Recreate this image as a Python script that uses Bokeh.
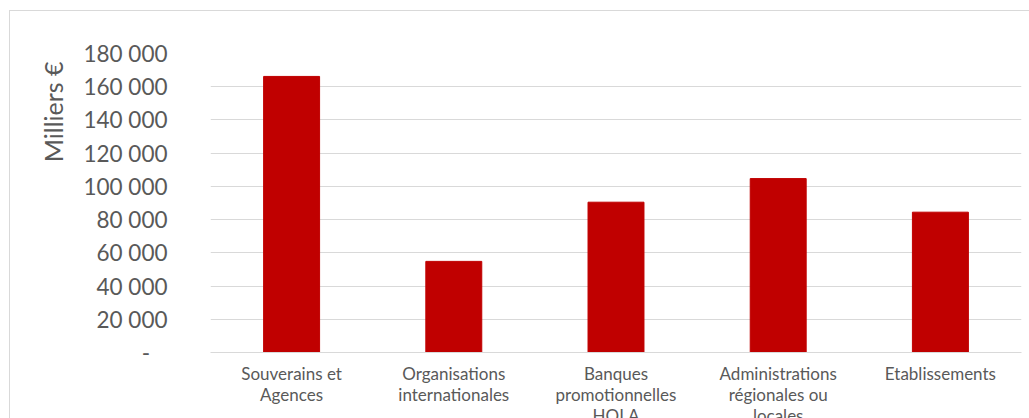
from bokeh.plotting import figure
from bokeh.models import FactorRange, Range1d, FixedTicker, Title, ColumnDataSource
from bokeh.embed import file_html
from bokeh.resources import INLINE

categories = [
    "Souverains et\nAgences",
    "Organisations\ninternationales",
    "Banques\npromotionnelles\nHQLA",
    "Administrations\nrégionales ou\nlocales",
    "Etablissements",
]
values = [166200, 54850, 90480, 104700, 84470]
y_ticks = [0, 20000, 40000, 60000, 80000, 100000, 120000, 140000, 160000, 180000]
y_tick_labels = ["-\u00a0\u00a0\u00a0", "20 000", "40 000", "60 000", "80 000", "100 000",
                 "120 000", "140 000", "160 000", "180 000"]
y_title = "Milliers €"

FONT = "Lato"
TXT = "#595959"
GRID = "#d9d9d9"

src = ColumnDataSource(dict(cat=categories, val=values))

p = figure(
    x_range=FactorRange(*categories, range_padding=0),
    y_range=Range1d(0, 180000),
    frame_width=811, frame_height=299,
    output_backend="svg", toolbar_location=None,
    min_border_left=200, min_border_right=8, min_border_top=42, min_border_bottom=0,
    styles={"margin-left": "9px", "margin-top": "10px",
            "border-left": "1px solid #d9d9d9", "border-top": "1px solid #d9d9d9"},
)
p.outline_line_color = None
p.background_fill_color = "white"
p.border_fill_color = "white"

p.vbar(x="cat", top="val", width=0.345, source=src, fill_color="#C00000", line_color="#C00000")

p.xgrid.grid_line_color = None
p.ygrid.grid_line_color = GRID
p.ygrid.grid_line_width = 1

ya = p.yaxis[0]
ya.ticker = FixedTicker(ticks=y_ticks)
ya.major_label_overrides = {t: l for t, l in zip(y_ticks, y_tick_labels)}
ya.axis_line_color = None
ya.major_tick_line_color = None
ya.minor_tick_line_color = None
ya.major_tick_out = 0
ya.major_tick_in = 0
ya.minor_tick_out = 0
ya.major_label_standoff = 43
ya.major_label_text_font = FONT
ya.major_label_text_font_size = "22.5px"
ya.major_label_text_color = TXT

xa = p.xaxis[0]
xa.axis_line_color = GRID
xa.axis_line_width = 1
xa.major_tick_line_color = None
xa.minor_tick_line_color = None
xa.major_tick_out = 0
xa.major_tick_in = 0
xa.major_label_standoff = 10
xa.major_label_text_font = FONT
xa.major_label_text_font_size = "17px"
xa.major_label_text_color = TXT
xa.major_label_text_line_height = 1.0

t = Title(text=y_title, align="right", text_font=FONT, text_font_size="25px",
          text_font_style="normal", text_color=TXT, offset=8, standoff=25)
p.add_layout(t, "left")

open("out.html", "w").write(file_html(p, INLINE))
